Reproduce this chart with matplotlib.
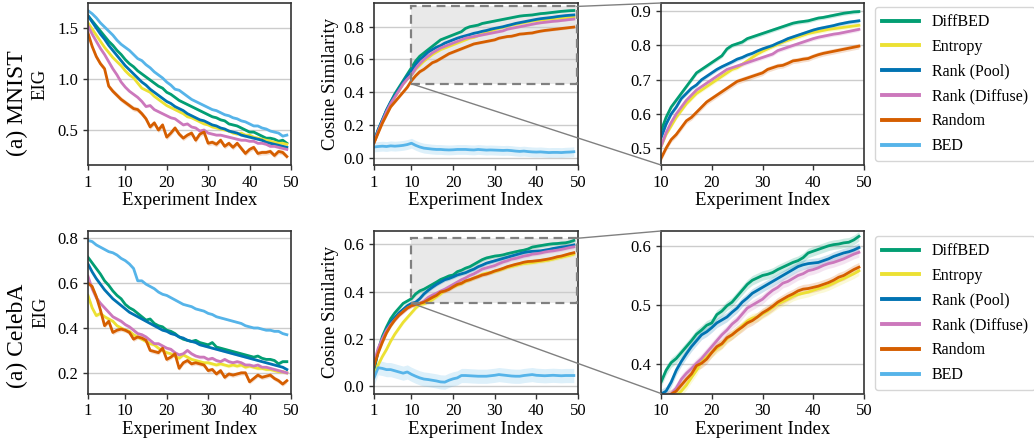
import matplotlib
matplotlib.use("Agg")
import matplotlib.pyplot as plt
from matplotlib.patches import Rectangle, ConnectionPatch
from matplotlib.lines import Line2D
import numpy as np

plt.rcParams["font.family"] = ["Liberation Serif", "DejaVu Serif"]

# ── data ──────────────────────────────────────────────────────────────────────
steps = list(range(1, 50))
methods = ["DiffBED", "Entropy", "Rank (Pool)", "Rank (Diffuse)", "Random", "BED"]
colors = ["#029e73", "#ece133", "#0173b2", "#cc78bc", "#d55e00", "#56b4e9"]

# MNIST – EIG
mnist_eig_diffbed = [1.62, 1.57, 1.52, 1.47, 1.42, 1.37, 1.33, 1.28, 1.24, 1.19, 1.15, 1.12, 1.08, 1.05, 1.02, 0.99, 0.96, 0.93, 0.91, 0.87, 0.85, 0.82, 0.79, 0.77, 0.75, 0.73, 0.71, 0.69, 0.67, 0.65, 0.63, 0.62, 0.60, 0.59, 0.56, 0.55, 0.54, 0.52, 0.50, 0.48, 0.48, 0.46, 0.44, 0.42, 0.42, 0.41, 0.39, 0.40, 0.37]
mnist_eig_entropy = [1.55, 1.49, 1.43, 1.37, 1.31, 1.26, 1.21, 1.17, 1.13, 1.08, 1.04, 1.01, 0.96, 0.91, 0.89, 0.87, 0.83, 0.80, 0.77, 0.74, 0.72, 0.70, 0.68, 0.66, 0.63, 0.62, 0.60, 0.58, 0.56, 0.55, 0.53, 0.52, 0.51, 0.50, 0.49, 0.47, 0.46, 0.47, 0.45, 0.45, 0.43, 0.42, 0.41, 0.40, 0.39, 0.38, 0.37, 0.37, 0.36]
mnist_eig_pool = [1.62, 1.56, 1.50, 1.44, 1.39, 1.33, 1.28, 1.23, 1.18, 1.13, 1.09, 1.05, 1.01, 0.97, 0.94, 0.90, 0.87, 0.84, 0.81, 0.78, 0.76, 0.73, 0.71, 0.69, 0.66, 0.64, 0.62, 0.60, 0.59, 0.57, 0.55, 0.54, 0.52, 0.51, 0.49, 0.48, 0.47, 0.45, 0.44, 0.43, 0.42, 0.41, 0.40, 0.38, 0.37, 0.36, 0.35, 0.34, 0.33]
mnist_eig_diffuse = [1.52, 1.44, 1.37, 1.30, 1.24, 1.17, 1.10, 1.04, 0.97, 0.92, 0.88, 0.85, 0.82, 0.78, 0.73, 0.74, 0.70, 0.68, 0.66, 0.64, 0.62, 0.61, 0.58, 0.55, 0.56, 0.53, 0.52, 0.49, 0.50, 0.47, 0.46, 0.45, 0.45, 0.44, 0.43, 0.42, 0.41, 0.40, 0.40, 0.39, 0.39, 0.37, 0.37, 0.36, 0.34, 0.34, 0.33, 0.32, 0.31]
mnist_eig_random = [1.45, 1.32, 1.22, 1.15, 1.10, 0.93, 0.88, 0.84, 0.80, 0.77, 0.74, 0.71, 0.70, 0.66, 0.61, 0.53, 0.57, 0.50, 0.55, 0.43, 0.47, 0.52, 0.46, 0.42, 0.45, 0.47, 0.40, 0.46, 0.48, 0.37, 0.38, 0.36, 0.40, 0.34, 0.37, 0.33, 0.37, 0.32, 0.27, 0.31, 0.33, 0.27, 0.28, 0.28, 0.29, 0.25, 0.29, 0.28, 0.24]
mnist_eig_bed = [1.67, 1.64, 1.60, 1.55, 1.51, 1.47, 1.43, 1.38, 1.34, 1.31, 1.28, 1.24, 1.20, 1.18, 1.14, 1.11, 1.07, 1.04, 1.01, 0.97, 0.94, 0.90, 0.89, 0.86, 0.83, 0.80, 0.78, 0.76, 0.74, 0.72, 0.70, 0.69, 0.67, 0.65, 0.64, 0.62, 0.61, 0.59, 0.58, 0.56, 0.54, 0.54, 0.52, 0.51, 0.49, 0.48, 0.47, 0.44, 0.45]
mnist_eig_band = [0.012, 0.012, 0.012, 0.012, 0.025, 0.01]

# MNIST – cosine similarity
mnist_cos_diffbed = [0.10, 0.17, 0.23, 0.29, 0.34, 0.39, 0.43, 0.47, 0.51, 0.55, 0.59, 0.62, 0.64, 0.66, 0.68, 0.70, 0.72, 0.73, 0.74, 0.75, 0.76, 0.77, 0.79, 0.80, 0.805, 0.81, 0.82, 0.825, 0.83, 0.835, 0.84, 0.845, 0.85, 0.855, 0.86, 0.865, 0.868, 0.87, 0.872, 0.876, 0.88, 0.882, 0.885, 0.888, 0.891, 0.894, 0.896, 0.898, 0.899]
mnist_cos_entropy = [0.09, 0.16, 0.22, 0.28, 0.33, 0.37, 0.41, 0.45, 0.48, 0.505, 0.54, 0.565, 0.59, 0.61, 0.63, 0.645, 0.66, 0.67, 0.68, 0.69, 0.70, 0.71, 0.72, 0.73, 0.735, 0.745, 0.755, 0.765, 0.775, 0.783, 0.79, 0.797, 0.803, 0.81, 0.815, 0.82, 0.825, 0.83, 0.835, 0.838, 0.841, 0.844, 0.847, 0.849, 0.851, 0.853, 0.855, 0.857, 0.859]
mnist_cos_pool = [0.10, 0.17, 0.23, 0.29, 0.34, 0.38, 0.42, 0.46, 0.50, 0.53, 0.57, 0.60, 0.62, 0.645, 0.66, 0.675, 0.685, 0.70, 0.71, 0.72, 0.73, 0.738, 0.745, 0.752, 0.76, 0.765, 0.772, 0.777, 0.784, 0.79, 0.795, 0.80, 0.807, 0.813, 0.82, 0.825, 0.83, 0.835, 0.84, 0.845, 0.849, 0.852, 0.855, 0.858, 0.862, 0.865, 0.868, 0.87, 0.872]
mnist_cos_diffuse = [0.09, 0.16, 0.22, 0.28, 0.33, 0.37, 0.41, 0.45, 0.48, 0.505, 0.545, 0.575, 0.60, 0.62, 0.64, 0.655, 0.67, 0.68, 0.69, 0.70, 0.71, 0.72, 0.73, 0.735, 0.74, 0.745, 0.75, 0.755, 0.76, 0.765, 0.77, 0.775, 0.785, 0.79, 0.795, 0.80, 0.805, 0.81, 0.815, 0.82, 0.824, 0.827, 0.83, 0.833, 0.835, 0.838, 0.841, 0.844, 0.847]
mnist_cos_random = [0.09, 0.15, 0.21, 0.26, 0.31, 0.34, 0.37, 0.40, 0.43, 0.47, 0.50, 0.525, 0.54, 0.56, 0.58, 0.59, 0.605, 0.62, 0.635, 0.645, 0.655, 0.665, 0.675, 0.685, 0.695, 0.70, 0.705, 0.71, 0.715, 0.72, 0.73, 0.735, 0.74, 0.742, 0.748, 0.755, 0.757, 0.76, 0.762, 0.768, 0.773, 0.777, 0.78, 0.783, 0.786, 0.789, 0.792, 0.795, 0.798]
mnist_cos_bed = [0.065, 0.068, 0.07, 0.068, 0.072, 0.07, 0.072, 0.075, 0.08, 0.088, 0.075, 0.065, 0.058, 0.055, 0.052, 0.05, 0.05, 0.048, 0.047, 0.048, 0.05, 0.05, 0.05, 0.048, 0.047, 0.05, 0.048, 0.046, 0.047, 0.046, 0.045, 0.044, 0.045, 0.043, 0.04, 0.038, 0.04, 0.037, 0.035, 0.034, 0.035, 0.033, 0.031, 0.032, 0.032, 0.031, 0.033, 0.034, 0.036]
mnist_cos_band = [0.006, 0.006, 0.006, 0.006, 0.008, 0.03]

# CelebA – EIG
celeba_eig_diffbed = [0.715, 0.69, 0.665, 0.64, 0.61, 0.59, 0.565, 0.545, 0.53, 0.505, 0.49, 0.48, 0.465, 0.45, 0.435, 0.44, 0.42, 0.41, 0.405, 0.39, 0.385, 0.375, 0.36, 0.35, 0.345, 0.34, 0.345, 0.335, 0.33, 0.325, 0.335, 0.315, 0.31, 0.305, 0.30, 0.295, 0.29, 0.285, 0.28, 0.275, 0.27, 0.275, 0.265, 0.26, 0.26, 0.255, 0.24, 0.25, 0.25]
celeba_eig_entropy = [0.545, 0.49, 0.455, 0.465, 0.45, 0.44, 0.43, 0.41, 0.40, 0.39, 0.385, 0.37, 0.36, 0.35, 0.34, 0.33, 0.325, 0.31, 0.30, 0.29, 0.285, 0.275, 0.265, 0.28, 0.27, 0.26, 0.255, 0.25, 0.245, 0.245, 0.24, 0.235, 0.24, 0.235, 0.23, 0.235, 0.23, 0.235, 0.225, 0.23, 0.225, 0.22, 0.22, 0.215, 0.215, 0.21, 0.205, 0.205, 0.20]
celeba_eig_pool = [0.685, 0.65, 0.62, 0.595, 0.57, 0.55, 0.53, 0.515, 0.50, 0.485, 0.47, 0.46, 0.45, 0.44, 0.43, 0.42, 0.41, 0.40, 0.39, 0.385, 0.375, 0.37, 0.36, 0.355, 0.345, 0.34, 0.335, 0.325, 0.32, 0.315, 0.31, 0.305, 0.30, 0.295, 0.29, 0.285, 0.28, 0.275, 0.27, 0.265, 0.26, 0.255, 0.25, 0.245, 0.24, 0.235, 0.23, 0.225, 0.215]
celeba_eig_diffuse = [0.63, 0.575, 0.535, 0.51, 0.49, 0.47, 0.45, 0.44, 0.43, 0.415, 0.405, 0.39, 0.375, 0.37, 0.36, 0.345, 0.33, 0.33, 0.32, 0.31, 0.305, 0.29, 0.28, 0.285, 0.30, 0.285, 0.275, 0.27, 0.27, 0.26, 0.265, 0.255, 0.25, 0.26, 0.25, 0.245, 0.25, 0.245, 0.235, 0.235, 0.23, 0.235, 0.225, 0.225, 0.22, 0.215, 0.21, 0.205, 0.20]
celeba_eig_random = [0.60, 0.585, 0.54, 0.48, 0.41, 0.43, 0.38, 0.39, 0.395, 0.39, 0.38, 0.35, 0.36, 0.355, 0.345, 0.30, 0.295, 0.29, 0.31, 0.26, 0.27, 0.285, 0.22, 0.245, 0.255, 0.24, 0.245, 0.24, 0.235, 0.21, 0.215, 0.195, 0.21, 0.18, 0.195, 0.19, 0.195, 0.20, 0.20, 0.16, 0.175, 0.19, 0.18, 0.185, 0.19, 0.175, 0.165, 0.15, 0.165]
celeba_eig_bed = [0.79, 0.785, 0.77, 0.76, 0.75, 0.74, 0.735, 0.725, 0.71, 0.70, 0.685, 0.665, 0.61, 0.61, 0.595, 0.585, 0.575, 0.56, 0.55, 0.545, 0.535, 0.525, 0.515, 0.505, 0.50, 0.495, 0.485, 0.48, 0.475, 0.465, 0.46, 0.45, 0.445, 0.44, 0.435, 0.43, 0.425, 0.42, 0.41, 0.405, 0.40, 0.40, 0.395, 0.39, 0.39, 0.385, 0.385, 0.375, 0.37]
celeba_eig_band = [0.006, 0.008, 0.004, 0.008, 0.01, 0.004]

# CelebA – cosine similarity
celeba_cos_diffbed = [0.064, 0.15, 0.21, 0.25, 0.285, 0.31, 0.33, 0.35, 0.36, 0.37, 0.39, 0.403, 0.41, 0.42, 0.43, 0.44, 0.451, 0.458, 0.466, 0.47, 0.484, 0.49, 0.499, 0.505, 0.515, 0.525, 0.535, 0.542, 0.546, 0.55, 0.552, 0.555, 0.56, 0.564, 0.568, 0.572, 0.575, 0.58, 0.588, 0.591, 0.594, 0.597, 0.60, 0.602, 0.603, 0.605, 0.606, 0.61, 0.616]
celeba_cos_entropy = [0.042, 0.09, 0.125, 0.155, 0.19, 0.22, 0.245, 0.27, 0.29, 0.31, 0.33, 0.345, 0.348, 0.355, 0.365, 0.378, 0.39, 0.405, 0.413, 0.42, 0.427, 0.434, 0.443, 0.45, 0.457, 0.465, 0.473, 0.478, 0.48, 0.485, 0.49, 0.496, 0.502, 0.506, 0.51, 0.515, 0.518, 0.52, 0.522, 0.525, 0.528, 0.53, 0.533, 0.537, 0.541, 0.545, 0.549, 0.553, 0.558]
celeba_cos_pool = [0.08, 0.15, 0.20, 0.24, 0.27, 0.29, 0.31, 0.325, 0.34, 0.35, 0.355, 0.37, 0.39, 0.405, 0.418, 0.43, 0.44, 0.45, 0.455, 0.462, 0.47, 0.475, 0.48, 0.488, 0.495, 0.505, 0.512, 0.52, 0.525, 0.53, 0.535, 0.54, 0.545, 0.55, 0.555, 0.56, 0.565, 0.568, 0.57, 0.571, 0.572, 0.575, 0.578, 0.582, 0.585, 0.588, 0.59, 0.593, 0.597]
celeba_cos_diffuse = [0.10, 0.16, 0.20, 0.235, 0.26, 0.28, 0.30, 0.315, 0.33, 0.34, 0.345, 0.35, 0.36, 0.375, 0.385, 0.393, 0.402, 0.41, 0.42, 0.43, 0.44, 0.45, 0.458, 0.468, 0.475, 0.485, 0.495, 0.50, 0.505, 0.51, 0.518, 0.525, 0.53, 0.537, 0.54, 0.545, 0.55, 0.553, 0.558, 0.56, 0.563, 0.567, 0.57, 0.572, 0.575, 0.578, 0.582, 0.586, 0.589]
celeba_cos_random = [0.085, 0.14, 0.185, 0.225, 0.255, 0.28, 0.30, 0.315, 0.33, 0.34, 0.345, 0.35, 0.355, 0.365, 0.375, 0.384, 0.398, 0.402, 0.409, 0.42, 0.43, 0.435, 0.445, 0.45, 0.457, 0.463, 0.47, 0.474, 0.48, 0.487, 0.492, 0.498, 0.505, 0.51, 0.515, 0.519, 0.524, 0.527, 0.528, 0.53, 0.532, 0.535, 0.538, 0.542, 0.547, 0.55, 0.555, 0.56, 0.564]
celeba_cos_bed = [0.035, 0.078, 0.075, 0.07, 0.07, 0.065, 0.06, 0.055, 0.06, 0.05, 0.042, 0.035, 0.03, 0.028, 0.025, 0.022, 0.018, 0.017, 0.025, 0.031, 0.035, 0.045, 0.045, 0.044, 0.043, 0.042, 0.042, 0.042, 0.044, 0.046, 0.049, 0.047, 0.045, 0.043, 0.042, 0.042, 0.045, 0.047, 0.049, 0.046, 0.045, 0.044, 0.045, 0.046, 0.045, 0.044, 0.045, 0.045, 0.045]
celeba_cos_band = [0.008, 0.008, 0.008, 0.008, 0.008, 0.03]

mnist_eig = [mnist_eig_diffbed, mnist_eig_entropy, mnist_eig_pool, mnist_eig_diffuse, mnist_eig_random, mnist_eig_bed]
mnist_cos = [mnist_cos_diffbed, mnist_cos_entropy, mnist_cos_pool, mnist_cos_diffuse, mnist_cos_random, mnist_cos_bed]
celeba_eig = [celeba_eig_diffbed, celeba_eig_entropy, celeba_eig_pool, celeba_eig_diffuse, celeba_eig_random, celeba_eig_bed]
celeba_cos = [celeba_cos_diffbed, celeba_cos_entropy, celeba_cos_pool, celeba_cos_diffuse, celeba_cos_random, celeba_cos_bed]

FS_TICK = 12
FS_LABEL = 13.5


def draw(ax, series, bands, with_bed=True):
    x = np.array(steps)
    for vals, band, c, name in zip(series, bands, colors, methods):
        if name == "BED" and not with_bed:
            continue
        y = np.array(vals)
        ax.fill_between(x, y - band, y + band, color=c, alpha=0.2, lw=0)
        ax.plot(x, y, color=c, lw=2.0)


def style(ax, xticks, yticks, xlim, ylim):
    ax.set_xlim(*xlim)
    ax.set_ylim(*ylim)
    ax.set_xticks(xticks)
    ax.set_yticks(yticks)
    ax.grid(True, axis="y", color="#cccccc", lw=1.0)
    ax.set_axisbelow(True)
    ax.tick_params(labelsize=FS_TICK, length=3.5, width=1.0, color="#333333")
    for s in ax.spines.values():
        s.set_color("#333333")
        s.set_linewidth(1.2)
    ax.set_xlabel("Experiment Index", fontsize=FS_LABEL, labelpad=1)


fig = plt.figure(figsize=(10.34, 4.42), dpi=100)
W, H = 1034, 442

rows = [
    dict(name="(a) MNIST", top=3, bottom=165, eig=mnist_eig, eig_band=mnist_eig_band,
         cos=mnist_cos, cos_band=mnist_cos_band,
         eig_ylim=(0.157, 1.745), eig_yticks=[0.5, 1.0, 1.5],
         cos_ylim=(-0.045, 0.945), cos_yticks=[0.0, 0.2, 0.4, 0.6, 0.8],
         zoom_ylim=(0.451, 0.924), zoom_yticks=[0.5, 0.6, 0.7, 0.8, 0.9],
         label_y=103, legend_top=7),
    dict(name="(a) CelebA", top=231, bottom=393.5, eig=celeba_eig, eig_band=celeba_eig_band,
         cos=celeba_cos, cos_band=celeba_cos_band,
         eig_ylim=(0.108, 0.832), eig_yticks=[0.2, 0.4, 0.6, 0.8],
         cos_ylim=(-0.031, 0.656), cos_yticks=[0.0, 0.2, 0.4, 0.6],
         zoom_ylim=(0.351, 0.625), zoom_yticks=[0.4, 0.5, 0.6],
         label_y=336, legend_top=236),
]

cols = [(88, 291), (374, 578), (661, 864)]
xt_full = [1, 10, 20, 30, 40, 50]
xt_zoom = [10, 20, 30, 40, 50]

for r in rows:
    b = 1 - r["bottom"] / H
    h = (r["bottom"] - r["top"]) / H
    axs = [fig.add_axes([c0 / W, b, (c1 - c0) / W, h]) for c0, c1 in cols]

    # EIG panel
    draw(axs[0], r["eig"], r["eig_band"])
    style(axs[0], xt_full, r["eig_yticks"], (1, 50), r["eig_ylim"])
    axs[0].set_ylabel("EIG", fontsize=FS_LABEL, labelpad=6)

    # cosine panel
    draw(axs[1], r["cos"], r["cos_band"])
    style(axs[1], xt_full, r["cos_yticks"], (1, 50), r["cos_ylim"])
    axs[1].set_ylabel("Cosine Similarity", fontsize=FS_LABEL, labelpad=3)

    # zoomed panel
    draw(axs[2], r["cos"], r["cos_band"], with_bed=False)
    style(axs[2], xt_zoom, r["zoom_yticks"], (10, 50), r["zoom_ylim"])

    # zoom box on the cosine panel
    z0, z1 = r["zoom_ylim"]
    x0, x1 = 10, 49.7
    rect = Rectangle((x0, z0), x1 - x0, z1 - z0, facecolor="#c8c8c8", alpha=0.4,
                     edgecolor="none", zorder=0.5)
    axs[1].add_patch(rect)
    axs[1].add_patch(Rectangle((x0, z0), x1 - x0, z1 - z0, fill=False,
                               edgecolor="#808080", ls=(0, (4, 2.5)), lw=1.6, zorder=3))
    for pa, pb in [((x1, z1), (0, 1)), ((x0, z0), (0, 0))]:
        con = ConnectionPatch(xyA=pa, coordsA=axs[1].transData,
                              xyB=pb, coordsB=axs[2].transAxes,
                              color="#808080", lw=1.0)
        fig.add_artist(con)

    fig.text(17 / W, 1 - r["label_y"] / H, r["name"], rotation=90,
             ha="center", va="center", fontsize=17)

    handles = [Line2D([0], [0], color=c, lw=2.8) for c in colors]
    fig.legend(handles, methods, loc="upper left",
               bbox_to_anchor=(875 / W, 1 - r["legend_top"] / H),
               fontsize=11.5, frameon=True, borderaxespad=0, handlelength=2.3,
               labelspacing=0.55, borderpad=0.45, handletextpad=0.8,
               edgecolor="#cccccc", fancybox=True)

fig.savefig("out.png", dpi=100)
